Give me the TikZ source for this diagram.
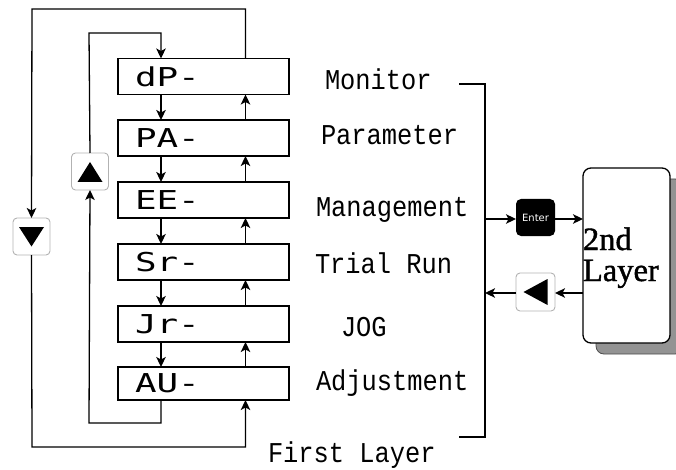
\documentclass[tikz,border=0pt]{standalone}
\usepackage{fontspec}
\setmainfont{Liberation Serif}
\newfontfamily\lblfont{Liberation Mono}
\newfontfamily\segfont{DejaVu Sans Mono}
\newfontfamily\keyfont{DejaVu Sans}
\newfontfamily\layfont[FakeBold=1.3]{Liberation Serif}
\usetikzlibrary{arrows.meta,calc,shadows}
\newcommand{\seg}[1]{\scalebox{1.38}[1]{\fontsize{26}{26}\selectfont\segfont #1}}
\newcommand{\lbl}[1]{\scalebox{1}[1.13]{\fontsize{25.4}{25.4}\selectfont\lblfont #1}}
\begin{document}
\begin{tikzpicture}[x=1pt,y=-1pt,
  every node/.style={inner sep=0pt, outer sep=0pt},
  disp/.style={draw, line width=1.6pt, minimum width=171pt, minimum height=36pt, text width=137pt, align=left},
  lab/.style={anchor=base west},
  keybox/.style={draw=gray!60, line width=0.9pt, rounded corners=4pt, minimum width=37pt, minimum height=37pt},
  conn/.style={line width=1.3pt, -{Stealth[length=10pt,width=9.5pt,inset=2.5pt]}},
  plain/.style={line width=1.3pt},
  tri/.style={fill=black}
]
\useasboundingbox (0,0) rectangle (676,470);

% display boxes
\node[disp] (dp) at (203.5,76.5) {\seg{dP-}};
\node[disp] (pa) at (203.5,138) {\seg{PA-}};
\node[disp] (ee) at (203.5,200) {\seg{EE-}};
\node[disp] (sr) at (203.5,262) {\seg{Sr-}};
\node[disp] (jr) at (203.5,324) {\seg{Jr-}};
\node[disp, minimum height=33pt] (au) at (203.5,383.5) {\seg{AU-}};

% arrows between boxes
\foreach \a/\b in {dp/pa, pa/ee, ee/sr, sr/jr, jr/au}{
  \draw[conn] ([xshift=-42.5pt]\a.south) -- ([xshift=-42.5pt]\b.north);
  \draw[conn] ([xshift=42pt]\b.north) -- ([xshift=42pt]\a.south);
}

% keys
\node[keybox] (kdown) at (31.5,236.5) {};
\fill[tri] ($(kdown.center)+(-12.5,-9.5)$) -- ($(kdown.center)+(12.5,-9.5)$) -- ($(kdown.center)+(0,10)$) -- cycle;
\node[keybox] (kup) at (90,171.5) {};
\fill[tri] ($(kup.center)+(-12.5,10.5)$) -- ($(kup.center)+(12.5,10.5)$) -- ($(kup.center)+(0,-9.5)$) -- cycle;

% outer loop
\coordinate (otl) at (32,9);
\coordinate (obl) at (32,447);
\draw[conn] ([xshift=42pt]dp.north) |- (otl) -- (kdown.north);
\draw[conn] (kdown.south) -- (obl) -| ([xshift=42pt]au.south);

% inner loop
\coordinate (itl) at (89,33);
\coordinate (ibl) at (89,423);
\draw[conn] ([xshift=-42.5pt]au.south) |- (ibl) -- (kup.south);
\draw[conn] (kup.north) -- (itl) -| ([xshift=-42.5pt]dp.north);

% labels
\node[lab] (lmon) at (325,90) {\lbl{Monitor}};
\node[lab] (lpar) at (321,145) {\lbl{Parameter}};
\node[lab] (lman) at (316,216.5) {\lbl{Management}};
\node[lab] (ltri) at (315,273) {\lbl{Trial Run}};
\node[lab] (ljog) at (341,336) {\lbl{JOG}};
\node[lab] (ladj) at (316,390) {\lbl{Adjustment}};
\node[lab] (lfir) at (268,462) {\lbl{First Layer}};

% bracket
\coordinate (bt0) at (459,84);
\coordinate (bt1) at (485,84);
\coordinate (bb0) at (459,437);
\coordinate (bb1) at (485,437);
\coordinate (benter) at (485,219);
\coordinate (bback) at (485,293);
\draw[plain] (bt0) -- (bt1) -- (bb1) -- (bb0);

% second layer
\node[draw, line width=1.3pt, fill=white, rounded corners=8pt, minimum width=87pt, minimum height=175pt,
      drop shadow={shadow xshift=13pt, shadow yshift=-11pt, fill=gray!85, draw=gray!60!black, line width=0.8pt, opacity=1}]
      (l2) at (626.5,255.5) {};
\node[anchor=base west, font={\fontsize{32.5}{32.5}\selectfont\layfont}] (t2nd) at (583,250) {2nd};
\node[anchor=base west, font={\fontsize{32.5}{32.5}\selectfont\layfont}] (tlay) at (583,281) {Layer};

% enter key and back key
\node[fill=black, rounded corners=5pt, minimum width=39pt, minimum height=37pt, text=white,
      font={\fontsize{10}{10}\selectfont\keyfont}] (kent) at (535.5,217.5) {Enter};
\node[keybox, minimum width=39pt, minimum height=38pt] (kback) at (535.5,292) {};
\fill[tri] ($(kback.center)+(-12,0)$) -- ($(kback.center)+(12,-13)$) -- ($(kback.center)+(12,13)$) -- cycle;

\draw[conn] (benter) -- (kent.west |- benter);
\draw[conn] (kent.east |- benter) -- (l2.west |- benter);
\draw[conn] (l2.west |- bback) -- (kback.east |- bback);
\draw[conn] (kback.west |- bback) -- (bback);
\end{tikzpicture}
\end{document}
